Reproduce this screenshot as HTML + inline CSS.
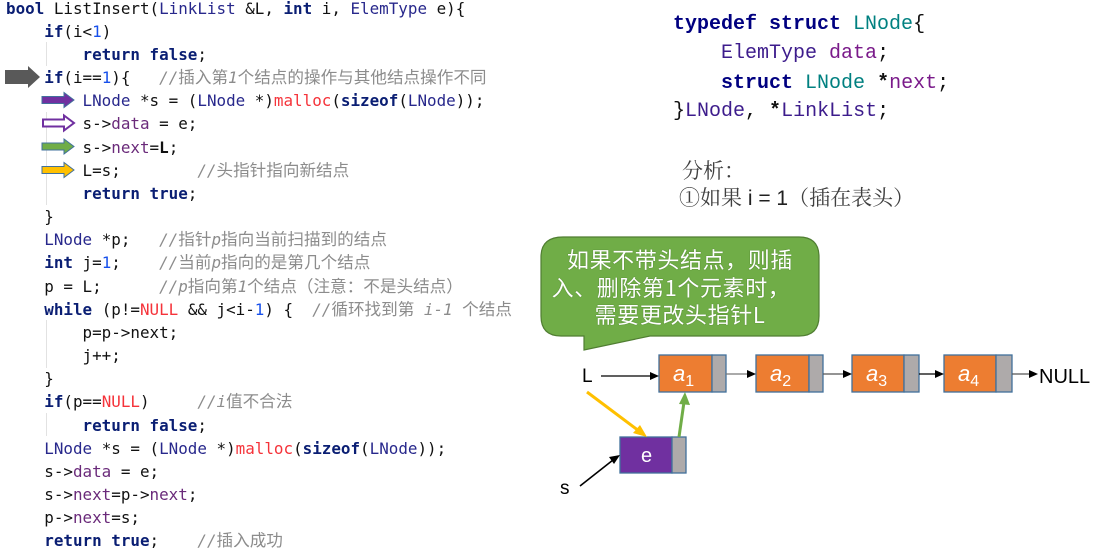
<!DOCTYPE html>
<html><head><meta charset="utf-8">
<style>
html,body{margin:0;padding:0;background:#fff;}
body{width:1097px;height:548px;position:relative;overflow:hidden;}
.l{position:absolute;left:6px;height:23px;margin:0;white-space:pre;font-family:"DejaVu Sans Mono","Noto Sans CJK SC",monospace;font-size:15.9px;line-height:23px;color:#111;}
.k{color:#0a1e73;font-weight:bold;}
.t{color:#28288c;}
.n{color:#1750eb;}
.r{color:#f5333a;}
.f{color:#6a2a7a;}
.c{color:#8c8c8c;font-style:italic;}
.z{font-family:"Noto Sans CJK SC",sans-serif;font-style:normal;font-size:16.6px;line-height:0;}
.b{font-weight:bold;}
.ts{position:absolute;left:673px;white-space:pre;font-family:"Liberation Mono","DejaVu Sans Mono",monospace;font-size:20px;line-height:28px;color:#111;}
.tk{color:#000080;font-weight:bold;}
.tl{color:#008080;}
.tp{color:#3d1c8c;}
.tf{color:#7a1a8a;}
.an{position:absolute;white-space:pre;font-family:"Noto Serif CJK SC","Noto Sans CJK SC",serif;font-size:21px;line-height:26px;color:#404040;}
.bub{position:absolute;left:541px;width:278px;text-align:center;white-space:pre;font-family:"Noto Sans CJK SC",sans-serif;font-size:22px;line-height:27px;color:#fff;letter-spacing:0.6px;text-shadow:0 0 1px #3a6a20;}
</style></head><body>
<svg width="1097" height="548" style="position:absolute;left:0;top:0" xmlns="http://www.w3.org/2000/svg">
  <g stroke="#e2e2e2" stroke-width="1">
    <line x1="46.5" y1="42" x2="46.5" y2="66"/>
    <line x1="46.5" y1="112" x2="46.5" y2="205"/>
    <line x1="46.5" y1="320" x2="46.5" y2="368"/>
    <line x1="46.5" y1="413" x2="46.5" y2="436"/>
  </g>
  <polygon points="5,70 28,70 28,66 40,77 28,88 28,84 5,84" fill="#595959"/>
  <polygon points="42,96.5 64,96.5 64,92.5 74,100 64,107.5 64,103.5 42,103.5" fill="#7030a0" stroke="#41719c" stroke-width="1"/>
  <polygon points="43,119.5 64,119.5 64,115.5 74,123 64,130.5 64,126.5 43,126.5" fill="#fff" stroke="#7030a0" stroke-width="2"/>
  <polygon points="42,143 64,143 64,139 74,146.5 64,154 64,150 42,150" fill="#70ad47" stroke="#41719c" stroke-width="1"/>
  <polygon points="42,166.5 64,166.5 64,162.5 74,170 64,177.5 64,173.5 42,173.5" fill="#ffc000" stroke="#41719c" stroke-width="1"/>

  <path d="M563,237 H799 Q819,237 819,257 V316 Q819,336 799,336 H650 L584,350 L584,336 H561 Q541,336 541,316 V257 Q541,237 563,237 Z" fill="#70ad47" stroke="#507e32" stroke-width="1.2"/>

  <g stroke="#41719c" stroke-width="1.3">
    <rect x="659" y="355" width="53" height="37" fill="#ed7d31"/>
    <rect x="712" y="355" width="14" height="37" fill="#aeaaaa"/>
    <rect x="756" y="355" width="53" height="37" fill="#ed7d31"/>
    <rect x="809" y="355" width="14" height="37" fill="#aeaaaa"/>
    <rect x="852" y="355" width="52" height="37" fill="#ed7d31"/>
    <rect x="904" y="355" width="15" height="37" fill="#aeaaaa"/>
    <rect x="944" y="355" width="52" height="37" fill="#ed7d31"/>
    <rect x="996" y="355" width="16" height="37" fill="#aeaaaa"/>
    <rect x="620" y="437" width="52" height="36" fill="#7030a0"/>
    <rect x="672" y="437" width="14" height="36" fill="#aeaaaa"/>
  </g>
  <g font-family="Liberation Sans, sans-serif" fill="#fff" font-style="italic">
    <text x="673" y="381" font-size="22">a<tspan font-size="16" dy="5" font-style="normal">1</tspan></text>
    <text x="770" y="381" font-size="22">a<tspan font-size="16" dy="5" font-style="normal">2</tspan></text>
    <text x="866" y="381" font-size="22">a<tspan font-size="16" dy="5" font-style="normal">3</tspan></text>
    <text x="958" y="381" font-size="22">a<tspan font-size="16" dy="5" font-style="normal">4</tspan></text>
  </g>
  <text x="641" y="462" font-family="Liberation Sans, sans-serif" font-size="20" fill="#fff">e</text>

  <g stroke="#000" stroke-width="1.2">
    <line x1="601" y1="376" x2="651" y2="376"/>
    <line x1="726" y1="374" x2="749" y2="374" stroke="#777"/>
    <line x1="823" y1="374" x2="845" y2="374" stroke="#555"/>
    <line x1="919" y1="374" x2="937" y2="374"/>
    <line x1="1012" y1="374" x2="1030" y2="374" stroke="#555"/>
    <line x1="580" y1="486" x2="613" y2="460" stroke-width="1.6"/>
  </g>
  <g fill="#000">
    <polygon points="659,376 650,372 650,380"/>
    <polygon points="756,374 747,370 747,378"/>
    <polygon points="852,374 843,370 843,378"/>
    <polygon points="944,374 935,370 935,378"/>
    <polygon points="1038,374 1029,370 1029,378"/>
    <polygon points="620,455 609,457 614,464"/>
  </g>
  <line x1="587" y1="392" x2="639" y2="431" stroke="#ffc000" stroke-width="3"/>
  <polygon points="647,437 633,433 640,425" fill="#ffc000"/>
  <line x1="679" y1="437" x2="684" y2="402" stroke="#70ad47" stroke-width="3"/>
  <polygon points="685,392 679,404 690,405" fill="#70ad47"/>

  <g font-family="Liberation Sans, sans-serif" fill="#000">
    <text x="582" y="382" font-size="19">L</text>
    <text x="1039" y="383" font-size="20">NULL</text>
    <text x="560" y="494" font-size="19">s</text>
  </g>
</svg>

<div class="l" style="top:-3.5px"><span class="k">bool</span> ListInsert(<span class="t">LinkList</span> &amp;L, <span class="k">int</span> i, <span class="t">ElemType</span> e){</div>
<div class="l" style="top:19.7px">    <span class="k">if</span>(i&lt;<span class="n">1</span>)</div>
<div class="l" style="top:42.8px">        <span class="k">return false</span>;</div>
<div class="l" style="top:66px">    <span class="k">if</span>(i==<span class="n">1</span>){   <span class="c">//<span class="z">插入第</span>1<span class="z">个结点的操作与其他结点操作不同</span></span></div>
<div class="l" style="top:89.2px">        <span class="t">LNode</span> *s = (<span class="t">LNode</span> *)<span class="r">malloc</span>(<span class="k">sizeof</span>(<span class="t">LNode</span>));</div>
<div class="l" style="top:112.3px">        s-&gt;<span class="f">data</span> = e;</div>
<div class="l" style="top:135.5px">        s-&gt;<span class="f">next</span>=<span class="b">L</span>;</div>
<div class="l" style="top:158.7px">        L=s;        <span class="c">//<span class="z">头指针指向新结点</span></span></div>
<div class="l" style="top:181.9px">        <span class="k">return true</span>;</div>
<div class="l" style="top:205px">    }</div>
<div class="l" style="top:228.2px">    <span class="t">LNode</span> *p;   <span class="c">//<span class="z">指针</span>p<span class="z">指向当前扫描到的结点</span></span></div>
<div class="l" style="top:251.4px">    <span class="k">int</span> j=<span class="n">1</span>;    <span class="c">//<span class="z">当前</span>p<span class="z">指向的是第几个结点</span></span></div>
<div class="l" style="top:274.5px">    p = L;      <span class="c">//p<span class="z">指向第</span>1<span class="z">个结点（注意：不是头结点）</span></span></div>
<div class="l" style="top:297.7px">    <span class="k">while</span> (p!=<span class="r">NULL</span> &amp;&amp; j&lt;i-<span class="n">1</span>) {  <span class="c">//<span class="z">循环找到第</span> i-1 <span class="z">个结点</span></span></div>
<div class="l" style="top:320.9px">        p=p-&gt;next;</div>
<div class="l" style="top:344px">        j++;</div>
<div class="l" style="top:367.2px">    }</div>
<div class="l" style="top:390.4px">    <span class="k">if</span>(p==<span class="r">NULL</span>)     <span class="c">//i<span class="z">值不合法</span></span></div>
<div class="l" style="top:413.5px">        <span class="k">return false</span>;</div>
<div class="l" style="top:436.7px">    <span class="t">LNode</span> *s = (<span class="t">LNode</span> *)<span class="r">malloc</span>(<span class="k">sizeof</span>(<span class="t">LNode</span>));</div>
<div class="l" style="top:459.9px">    s-&gt;<span class="f">data</span> = e;</div>
<div class="l" style="top:483px">    s-&gt;<span class="f">next</span>=p-&gt;<span class="f">next</span>;</div>
<div class="l" style="top:506.2px">    p-&gt;<span class="f">next</span>=s;</div>
<div class="l" style="top:529.4px">    <span class="k">return true</span>;    <span class="c">//<span class="z">插入成功</span></span></div>

<div class="ts" style="top:11px"><span class="tk">typedef struct</span> <span class="tl">LNode</span>{</div>
<div class="ts" style="top:40px">    <span class="tp">ElemType</span> <span class="tf">data</span>;</div>
<div class="ts" style="top:70px">    <span class="tk">struct</span> <span class="tl">LNode</span> <b>*</b><span class="tf">next</span>;</div>
<div class="ts" style="top:98px">}<span class="tp">LNode</span>, <b>*</b><span class="tp">LinkList</span>;</div>

<div class="an" style="left:682px;top:157px">分析：</div>
<div class="an" style="left:679px;top:184px">①如果<span style="font-family:'Liberation Sans',sans-serif;color:#202020"> i = 1</span>（插在表头）</div>

<div class="bub" style="top:246px">如果不带头结点，则插</div>
<div class="bub" style="top:274px;left:532px">入、删除第1个元素时，</div>
<div class="bub" style="top:301px">需要更改头指针L</div>
</body></html>
